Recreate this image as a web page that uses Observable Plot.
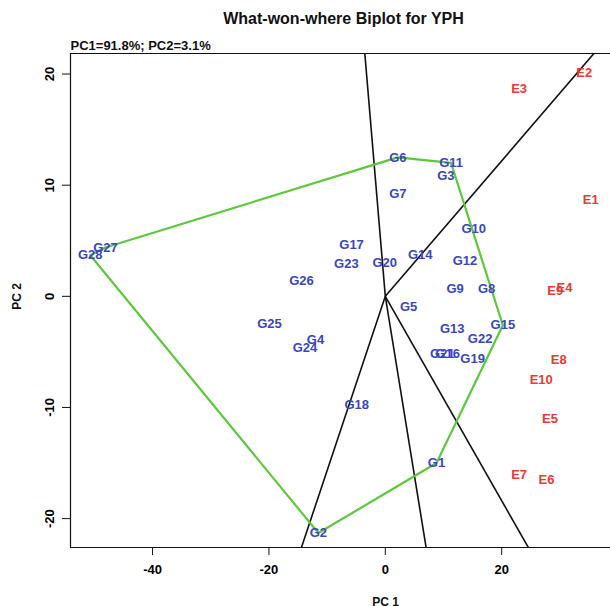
<!DOCTYPE html>
<html>
<head>
<meta charset="utf-8">
<script src="https://cdn.jsdelivr.net/npm/d3@7"></script>
<script src="https://cdn.jsdelivr.net/npm/@observablehq/plot@0.6"></script>
<style>
  html, body { margin: 0; padding: 0; background: #fff; }
</style>
</head>
<body>
<div id="chart"></div>
<script>
// ---- data ----
const title = "What-won-where Biplot for YPH";
const subtitle = "PC1=91.8%; PC2=3.1%";
const xLabel = "PC 1";
const yLabel = "PC 2";

const genotypes = ["G1","G2","G3","G4","G5","G6","G7","G8","G9","G10","G11","G12","G13","G14","G15","G16","G17","G18","G19","G20","G21","G22","G23","G24","G25","G26","G27","G28"];
const genoPC1 = [8.8,-11.5,10.4,-12.0,4.0,2.15,2.15,17.4,12.0,15.2,11.3,13.7,11.5,6.0,20.2,10.7,-5.8,-4.9,15.0,-0.1,9.8,16.3,-6.7,-13.8,-19.9,-14.4,-48.1,-50.7];
const genoPC2 = [-15.0,-21.3,10.8,-3.9,-0.9,12.5,9.2,0.7,0.7,6.1,12.0,3.2,-2.9,3.7,-2.6,-5.2,4.6,-9.8,-5.6,3.0,-5.2,-3.8,2.9,-4.6,-2.5,1.4,4.4,3.7];

const environments = ["E1","E2","E3","E9","E4","E5","E6","E7","E8","E10"];
const envPC1 = [35.3,34.2,23.0,29.2,30.8,28.3,27.7,23.0,29.8,26.8];
const envPC2 = [8.7,20.1,18.7,0.5,0.8,-11.0,-16.5,-16.1,-5.7,-7.5];

// polygon (convex hull) vertices, in drawing order
const hullOrder = ["G27","G6","G11","G15","G1","G2","G28"];
// hull sides whose perpendicular rays from the origin are drawn
const rayEdges = [["G27","G6"],["G11","G15"],["G15","G1"],["G1","G2"],["G2","G28"]];

const xTicks = [-40,-20,0,20];
const yTicks = [-20,-10,0,10,20];
const xDomain = [-54.1, 38.7];
const yDomain = [-22.6, 21.85];

// ---- derived tables ----
const geno = genotypes.map((g,i) => ({name: g, x: genoPC1[i], y: genoPC2[i]}));
const env = environments.map((e,i) => ({name: e, x: envPC1[i], y: envPC2[i]}));
const pos = new Map(geno.map(d => [d.name, d]));
const hull = [...hullOrder, hullOrder[0]].map(n => pos.get(n));
const rays = rayEdges.map(([a,b]) => {
  const A = pos.get(a), B = pos.get(b);
  let nx = B.y - A.y, ny = -(B.x - A.x);
  const mx = (A.x + B.x)/2, my = (A.y + B.y)/2;
  if (nx*mx + ny*my < 0) { nx = -nx; ny = -ny; }
  const s = 300 / Math.hypot(nx, ny);
  return {x1: 0, y1: 0, x2: nx*s, y2: ny*s};
});

const blue = "#3a46c0";
const red = "#e83a33";
const green = "#5cc83c";

const chart = Plot.plot({
  width: 610,
  height: 606,
  marginLeft: 70,
  marginRight: 0,
  marginTop: 53,
  marginBottom: 59,
  style: {fontFamily: "'Liberation Sans', Arial, sans-serif", fontWeight: "bold", background: "#fff"},
  x: {domain: xDomain},
  y: {domain: yDomain},
  marks: [
    Plot.link(rays, {x1: "x1", y1: "y1", x2: "x2", y2: "y2", stroke: "#111", strokeWidth: 1.6, clip: true}),
    Plot.line(hull, {x: "x", y: "y", stroke: green, strokeWidth: 2.2, clip: true}),
    Plot.text(geno, {x: "x", y: "y", text: "name", fill: blue, fontSize: 13}),
    Plot.text(env, {x: "x", y: "y", text: "name", fill: red, fontSize: 13}),
    Plot.ruleX([xDomain[0]], {stroke: "#111", strokeWidth: 1.2}),
    Plot.ruleY([yDomain[0], yDomain[1]], {stroke: "#111", strokeWidth: 1.2}),
    Plot.axisX({ticks: xTicks, tickFormat: String, tickSize: 8, tickPadding: 9, fontSize: 13, label: null, stroke: "#111"}),
    Plot.axisY({ticks: yTicks, tickFormat: String, tickSize: 8, tickPadding: 9, tickRotate: -90, fontSize: 13, label: null, stroke: "#111"}),
    Plot.text([xLabel], {frameAnchor: "bottom", dy: 55, dx: 45, fontSize: 12, fill: "#111", lineAnchor: "middle"}),
    Plot.text([yLabel], {frameAnchor: "left", dx: -53, dy: -4, rotate: -90, fontSize: 12, fill: "#111", lineAnchor: "middle", textAnchor: "middle"}),
    Plot.text([title], {frameAnchor: "top", dy: -35, dx: 3, fontSize: 16, fill: "#111", lineAnchor: "middle"}),
    Plot.text([subtitle], {frameAnchor: "top-left", textAnchor: "start", lineAnchor: "middle", dy: -8, fontSize: 13, fill: "#111"})
  ]
});
document.getElementById("chart").appendChild(chart);
</script>
</body>
</html>
